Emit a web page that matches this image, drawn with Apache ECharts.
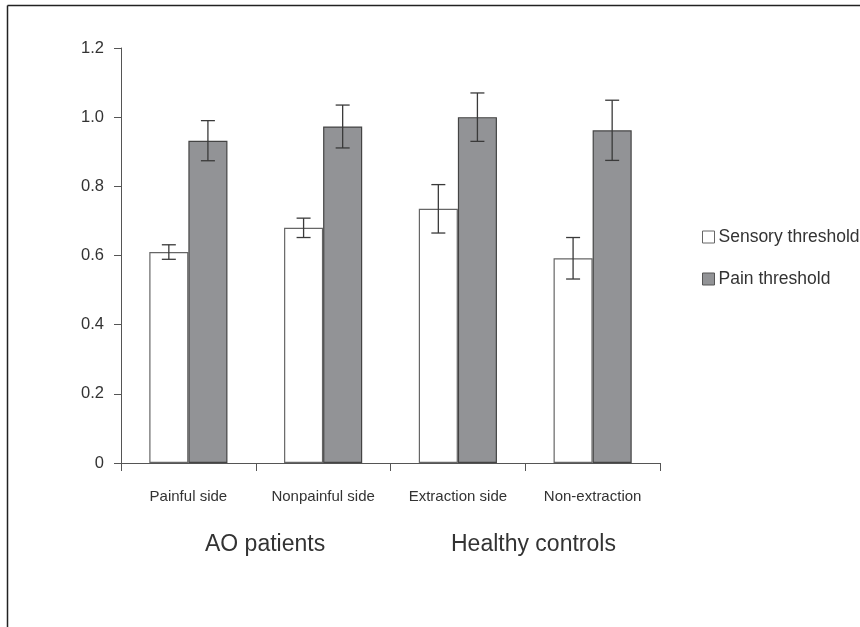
<!DOCTYPE html>
<html>
<head>
<meta charset="utf-8">
<script src="https://cdn.jsdelivr.net/npm/echarts@6/dist/echarts.min.js"></script>
<style>
html,body{margin:0;padding:0;background:#fff;}
#c{width:860px;height:627px;}
</style>
</head>
<body>
<div id="c"></div>
<script>
var categories = ['Painful side', 'Nonpainful side', 'Extraction side', 'Non-extraction'];
var groupLabels = ['AO patients', 'Healthy controls'];
var sensory = [0.61, 0.68, 0.735, 0.592];
var sensoryErr = [0.021, 0.028, 0.07, 0.06];
var pain = [0.932, 0.973, 1.0, 0.962];
var painErr = [0.058, 0.062, 0.07, 0.087];
var yTicks = [0, 0.2, 0.4, 0.6, 0.8, 1.0, 1.2];

var FONT = 'Liberation Sans, Arial, sans-serif';
var BAR_FRAC = 0.29;

function errData(vals, errs) {
  return vals.map(function (v, i) { return [i, v - errs[i], v + errs[i]]; });
}

function errSeries(name, vals, errs, side) {
  return {
    type: 'custom',
    name: name + ' err',
    z: 5,
    silent: true,
    data: errData(vals, errs),
    encode: { x: 0, y: [1, 2] },
    renderItem: function (params, api) {
      var band = api.size([1, 0])[0];
      var bw = band * BAR_FRAC;
      var lo = api.coord([api.value(0), api.value(1)]);
      var hi = api.coord([api.value(0), api.value(2)]);
      var x = lo[0] + side * bw / 2;
      var cap = 7;
      var st = { stroke: '#3a3a3a', lineWidth: 1.3 };
      return {
        type: 'group',
        children: [
          { type: 'line', shape: { x1: x, y1: lo[1], x2: x, y2: hi[1] }, style: st },
          { type: 'line', shape: { x1: x - cap, y1: lo[1], x2: x + cap, y2: lo[1] }, style: st },
          { type: 'line', shape: { x1: x - cap, y1: hi[1], x2: x + cap, y2: hi[1] }, style: st }
        ]
      };
    }
  };
}

var chart = echarts.init(document.getElementById('c'), null, { renderer: 'canvas' });
chart.setOption({
  animation: false,
  backgroundColor: '#fff',
  textStyle: { fontFamily: FONT },
  grid: { left: 121, right: 200, top: 48, bottom: 164, containLabel: false },
  legend: {
    orient: 'vertical',
    left: 697,
    top: 223,
    itemWidth: 12,
    itemHeight: 12,
    itemGap: 24,
    icon: 'rect',
    textStyle: { fontFamily: FONT, fontSize: 17.5, color: '#333', padding: [0, 0, 0, -1] },
    data: [
      { name: 'Sensory threshold', itemStyle: { color: '#fff', borderColor: '#666', borderWidth: 1 } },
      { name: 'Pain threshold', itemStyle: { color: '#929396', borderColor: '#555', borderWidth: 1 } }
    ]
  },
  xAxis: {
    type: 'category',
    data: categories,
    axisLine: { lineStyle: { color: '#555', width: 1 } },
    axisTick: { show: true, length: 8, lineStyle: { color: '#555' } },
    axisLabel: { color: '#333', fontSize: 15, margin: 26, fontFamily: FONT, interval: 0 }
  },
  yAxis: {
    type: 'value',
    min: 0,
    max: 1.2,
    interval: 0.2,
    splitLine: { show: false },
    axisLine: { show: true, lineStyle: { color: '#555', width: 1 } },
    axisTick: { show: true, length: 7, lineStyle: { color: '#555' } },
    axisLabel: {
      color: '#333', fontSize: 16.5, margin: 17, fontFamily: FONT,
      formatter: function (v) { return v === 0 ? '0' : v.toFixed(1); }
    }
  },
  series: [
    {
      type: 'bar', name: 'Sensory threshold', data: sensory,
      barWidth: (BAR_FRAC * 100) + '%', barGap: '0%',
      itemStyle: { color: '#fff', borderColor: '#666', borderWidth: 1.2 }
    },
    {
      type: 'bar', name: 'Pain threshold', data: pain,
      barWidth: (BAR_FRAC * 100) + '%', barGap: '0%',
      itemStyle: { color: '#929396', borderColor: '#444', borderWidth: 1.2 }
    },
    errSeries('Sensory threshold', sensory, sensoryErr, -1),
    errSeries('Pain threshold', pain, painErr, 1)
  ],
  graphic: [
    { type: 'line', shape: { x1: 7.5, y1: 5.5, x2: 860, y2: 5.5 }, style: { stroke: '#222', lineWidth: 1.5 } },
    { type: 'line', shape: { x1: 7.5, y1: 5.5, x2: 7.5, y2: 627 }, style: { stroke: '#222', lineWidth: 1.5 } },
    { type: 'text', left: 205, top: 533, style: { text: groupLabels[0], fontSize: 23, fill: '#333', fontFamily: FONT } },
    { type: 'text', left: 451, top: 533, style: { text: groupLabels[1], fontSize: 23, fill: '#333', fontFamily: FONT } }
  ]
});
</script>
</body>
</html>
